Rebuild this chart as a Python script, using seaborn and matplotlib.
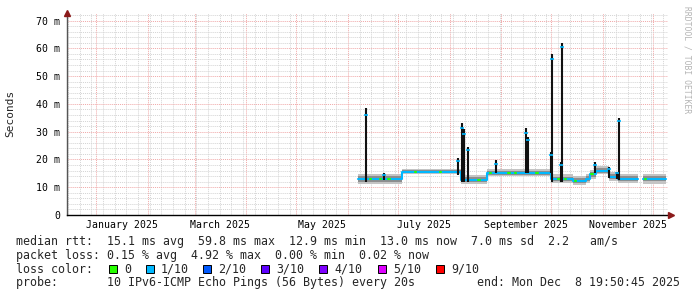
import matplotlib
matplotlib.use("Agg")
import matplotlib.pyplot as plt
import matplotlib.dates as mdates
from matplotlib.ticker import MultipleLocator, FuncFormatter, NullFormatter
from matplotlib.patches import Rectangle
import pandas as pd
import seaborn as sns

# ---------------- data (milliseconds) ----------------
seg_start = ["2025-06-07 05:00", "2025-07-03 12:00", "2025-08-07 12:00", "2025-08-23 06:00",
             "2025-09-30 20:00", "2025-10-14 00:00", "2025-10-22 00:00", "2025-10-24 06:00",
             "2025-10-27 12:00", "2025-11-04 20:00", "2025-11-10 00:00", "2025-11-25 00:00"]
seg_end = ["2025-07-03 12:00", "2025-08-07 12:00", "2025-08-23 06:00", "2025-09-30 20:00",
           "2025-10-14 00:00", "2025-10-22 00:00", "2025-10-24 06:00", "2025-10-27 12:00",
           "2025-11-04 20:00", "2025-11-10 00:00", "2025-11-22 00:00", "2025-12-08 19:50"]
seg_median = [12.9, 15.6, 12.7, 15.2, 12.9, 12.4, 13.0, 14.6, 16.0, 13.7, 13.0, 13.0]
seg_smoke_lo = [1.7, 1.0, 1.5, 1.2, 1.5, 1.5, 1.5, 1.5, 1.3, 1.5, 1.6, 1.7]
seg_smoke_hi = [1.9, 1.1, 1.7, 1.4, 1.7, 1.7, 1.7, 1.7, 1.5, 1.7, 1.8, 1.8]
seg_part = [1, 1, 1, 1, 1, 1, 1, 1, 1, 1, 1, 2]

spike_date = ["2025-06-11 18:00", "2025-06-22 14:00", "2025-08-06 00:00", "2025-08-08 05:00",
              "2025-08-09 14:00", "2025-08-12 05:00", "2025-08-28 14:00", "2025-09-15 14:00",
              "2025-09-17 05:00", "2025-09-30 14:00", "2025-10-01 12:00", "2025-10-06 14:00",
              "2025-10-07 12:00", "2025-10-27 00:00", "2025-11-04 10:00", "2025-11-09 12:00",
              "2025-11-10 14:00"]
spike_base = [12.0, 12.5, 14.5, 12.0, 12.0, 12.0, 15.0, 15.0, 15.0, 15.0, 12.0, 12.0,
              12.0, 15.0, 13.5, 13.0, 12.5]
spike_top = [38.4, 15.0, 20.5, 33.0, 31.0, 24.6, 19.8, 31.5, 28.0, 22.8, 58.0, 19.0,
             62.0, 19.0, 17.4, 15.5, 35.1]
spike_med = [36.0, 14.5, 19.5, 31.5, 29.0, 23.5, 18.5, 29.5, 27.0, 21.5, 56.0, 18.0,
             60.5, 18.0, 16.5, 15.0, 34.0]

green_date = ["2025-06-14", "2025-06-20", "2025-06-25", "2025-07-11", "2025-07-26",
              "2025-08-18", "2025-08-25", "2025-09-05", "2025-09-09", "2025-09-22",
              "2025-10-05", "2025-10-09", "2025-10-15", "2025-10-25", "2025-11-26"]
green_ms = [12.9, 12.9, 12.9, 15.6, 15.6, 12.7, 15.2, 15.2, 15.2, 15.2, 12.9, 12.9,
            12.4, 14.6, 13.0]

month_labels = ["January 2025", "March 2025", "May 2025", "July 2025",
                "September 2025", "November 2025"]
month_label_dates = ["2025-01-16 12:00", "2025-03-16 12:00", "2025-05-16 12:00",
                     "2025-07-16 12:00", "2025-09-16 00:00", "2025-11-16 00:00"]

loss_labels = ["0", "1/10", "2/10", "3/10", "4/10", "5/10", "9/10"]
loss_colors = ["#26ff00", "#00b8ff", "#0059ff", "#5e00ff", "#7e00ff", "#dd00ff", "#ff0000"]

line_rtt = "median rtt:  15.1 ms avg  59.8 ms max  12.9 ms min  13.0 ms now  7.0 ms sd  2.2   am/s"
line_loss = "packet loss: 0.15 % avg  4.92 % max  0.00 % min  0.02 % now"
line_color = "loss color:"
line_probe = "probe:       10 IPv6-ICMP Echo Pings (56 Bytes) every 20s"
line_end = "end: Mon Dec  8 19:50:45 2025"

# ---------------- figure ----------------
sns.set_style("white")
plt.rcParams["font.family"] = ["DejaVu Sans Mono", "DejaVu Sans"]

W, H = 697, 297
fig = plt.figure(figsize=(W / 100, H / 100), dpi=100)
fig.patch.set_facecolor("white")
ax = fig.add_axes([67 / W, (H - 215) / H, (668 - 67) / W, (215 - 12.5) / H])
ax.set_facecolor("white")

# smoke bands
for s, e, m, lo, hi in zip(seg_start, seg_end, seg_median, seg_smoke_lo, seg_smoke_hi):
    xs = [pd.Timestamp(s), pd.Timestamp(e)]
    ax.fill_between(xs, [m - lo] * 2, [m + hi] * 2, color="#c4c4c4", lw=0, zorder=2)
    ax.fill_between(xs, [m - lo * 0.55] * 2, [m + hi * 0.55] * 2, color="#8e8e8e", lw=0, zorder=2)

# median line
rows = []
for s, e, m, p in zip(seg_start, seg_end, seg_median, seg_part):
    rows.append((pd.Timestamp(s), m, p))
    rows.append((pd.Timestamp(e), m, p))
df = pd.DataFrame(rows, columns=["time", "ms", "part"])
sns.lineplot(data=df, x="time", y="ms", units="part", estimator=None, sort=False,
             color="#00b8ff", lw=1.5, ax=ax, legend=False, zorder=4)

# green (0 loss) stretches
grows = []
for i, (d, m) in enumerate(zip(green_date, green_ms)):
    t = pd.Timestamp(d)
    grows.append((t, m, i))
    grows.append((t + pd.Timedelta(hours=22), m, i))
gdf = pd.DataFrame(grows, columns=["time", "ms", "part"])
sns.lineplot(data=gdf, x="time", y="ms", units="part", estimator=None, sort=False,
             color="#26ff00", lw=1.5, ax=ax, legend=False, zorder=5)

# spikes
sd = [pd.Timestamp(d) for d in spike_date]
ax.vlines(sd, spike_base, spike_top, color="#111111", lw=1.5, zorder=6)
sns.scatterplot(x=sd, y=spike_med, marker="_", s=12, color="#00b8ff", linewidth=1.2,
                ax=ax, legend=False, zorder=7)

ax.set_xlabel("")
ax.set_ylabel("")

# axes limits / grid
ax.set_xlim(pd.Timestamp("2024-12-14 10:00"), pd.Timestamp("2025-12-09 23:00"))
ax.set_ylim(0, 72.9)
ax.xaxis.set_major_locator(mdates.MonthLocator())
ax.xaxis.set_major_formatter(NullFormatter())
ax.xaxis.set_minor_locator(mdates.WeekdayLocator(byweekday=mdates.SU))
ax.yaxis.set_major_locator(MultipleLocator(10))
ax.yaxis.set_minor_locator(MultipleLocator(2))
ax.yaxis.set_major_formatter(FuncFormatter(lambda v, p: "0" if v == 0 else f"{int(round(v))} m"))
ax.set_axisbelow(True)
ax.grid(which="minor", color="#d4d4d4", lw=0.7, linestyle=(0, (1, 1)))
ax.grid(which="major", color="#f0a8a8", lw=0.7, linestyle=(0, (1, 1)))
ax.tick_params(axis="both", which="both", length=0)
ax.tick_params(axis="y", labelsize=7.1, pad=5, labelcolor="black")

for sp in ["top", "right"]:
    ax.spines[sp].set_visible(False)
ax.spines["left"].set_color("#555555")
ax.spines["left"].set_linewidth(1.0)
ax.spines["bottom"].set_color("black")
ax.spines["bottom"].set_linewidth(1.0)

# arrows
ax.plot([0], [1.0], marker="^", ms=4.5, color="#8b1a1a", transform=ax.transAxes, clip_on=False, zorder=10)
ax.plot([1.0 + 3 / 601], [0], marker=">", ms=4.5, color="#8b1a1a", transform=ax.transAxes, clip_on=False, zorder=10)

# month labels
for lab, d in zip(month_labels, month_label_dates):
    ax.text(pd.Timestamp(d), -9.5 / 202.5, lab, transform=ax.get_xaxis_transform(),
            ha="center", va="center", fontsize=7.1, color="black")

# y-axis title and watermark
fig.text(10 / W, 1 - 113 / H, "Seconds", rotation=90, ha="center", va="center", fontsize=8)
fig.text(687 / W, 1 - 60 / H, "RRDTOOL / TOBI OETIKER", rotation=270, ha="center",
         va="center", fontsize=5.8, color="#b4b4b4")

# legend text
fs = 8.4
fig.text(16 / W, 1 - 241.5 / H, line_rtt, ha="left", va="center", fontsize=fs)
fig.text(16 / W, 1 - 255.5 / H, line_loss, ha="left", va="center", fontsize=fs)
fig.text(16 / W, 1 - 269.3 / H, line_color, ha="left", va="center", fontsize=fs)
fig.text(16 / W, 1 - 282.7 / H, line_probe, ha="left", va="center", fontsize=fs)
fig.text(680 / W, 1 - 282.7 / H, line_end, ha="right", va="center", fontsize=fs)

sq_x = [109, 146, 203, 261, 319, 378, 436]
for x, lab, c in zip(sq_x, loss_labels, loss_colors):
    fig.patches.append(Rectangle((x / W, 1 - 273.3 / H), 8 / W, 8 / H, transform=fig.transFigure,
                                 facecolor=c, edgecolor="black", lw=0.7))
    fig.text((x + 15) / W, 1 - 269.3 / H, lab, ha="left", va="center", fontsize=fs)

fig.savefig("out.png", dpi=100, facecolor="white")
